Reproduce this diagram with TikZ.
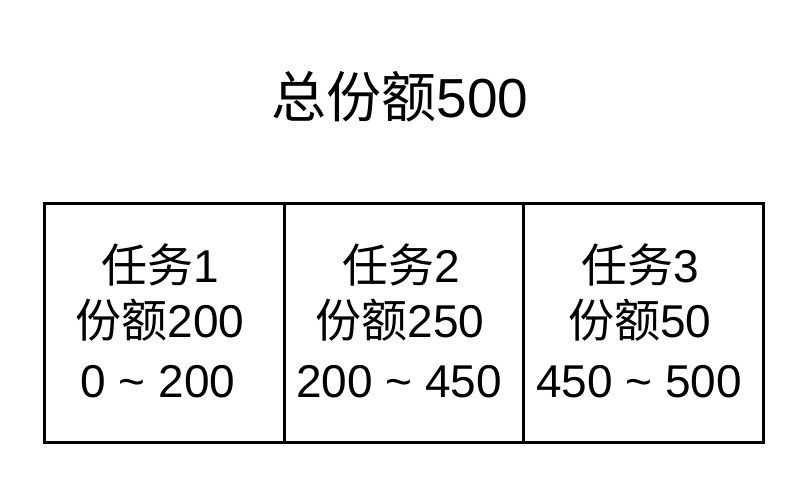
\documentclass[tikz,border=0pt]{standalone}
\usepackage{fontspec}
\setmainfont{Liberation Sans}
\newfontfamily\cjk{Noto Sans CJK SC}
\tikzset{
  cell/.style={draw, line width=3pt, minimum width=239.5pt, minimum height=238.5pt, inner sep=0pt, anchor=north west},
  txt/.style={anchor=base, inner sep=0pt, font=\fontsize{46}{52}\selectfont},
  ttl/.style={anchor=base, inner sep=0pt, font=\fontsize{55}{62}\selectfont}
}
\begin{document}
\begin{tikzpicture}[x=1pt,y=-1pt]
\useasboundingbox[fill=white] (0,0) rectangle (804,484);
\node[ttl] (title) at (400,118) {{\cjk 总份额}500};
\node[cell] (b1) at (43,202) {};
\node[cell] (b2) at (282.5,202) {};
\node[cell] (b3) at (522,202) {};
\node[txt] (t1a) at (160,282) {{\cjk 任务}1};
\node[txt] (t1b) at (160,337) {{\cjk 份额}200};
\node[txt] (t1c) at (158,397) {0 \textasciitilde{} 200};
\node[txt] (t2a) at (401,282) {{\cjk 任务}2};
\node[txt] (t2b) at (400,337) {{\cjk 份额}250};
\node[txt] (t2c) at (399,397) {200 \textasciitilde{} 450};
\node[txt] (t3a) at (640,282) {{\cjk 任务}3};
\node[txt] (t3b) at (640,337) {{\cjk 份额}50};
\node[txt] (t3c) at (639,397) {450 \textasciitilde{} 500};
\end{tikzpicture}
\end{document}
